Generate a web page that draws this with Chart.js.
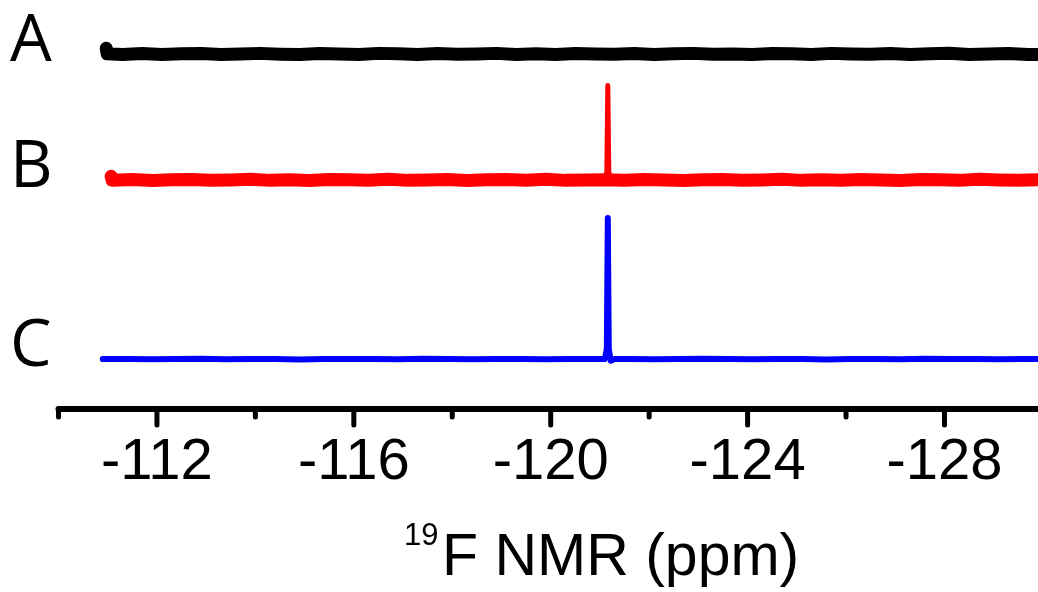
<!DOCTYPE html>
<html>
<head>
<meta charset="utf-8">
<script src="https://cdn.jsdelivr.net/npm/chart.js@4/dist/chart.umd.min.js"></script>
<style>
  html, body { margin: 0; padding: 0; background: #fff; overflow: hidden; }
  #wrap { width: 1038px; height: 592px; position: relative; }
</style>
</head>
<body>
<div id="wrap"><canvas id="c" width="1038" height="592"></canvas></div>
<script>
// ---- data (ppm positions and intensities) ----
const seriesLabels = ['A', 'B', 'C'];
const seriesColors = ['#000000', '#ff0000', '#0000ff'];
const seriesOffsets = [86.8, 56.0, 12.2];   // vertical stacking offset of each trace

const tickValues = [-112, -116, -120, -124, -128];
const minorTickValues = [-110, -114, -118, -122, -126, -130];

const ppmA = [-110.97, -110.99, -111.3, -111.7, -112.1, -112.5, -112.9, -113.3, -113.7, -114.1,
  -114.5, -114.9, -115.3, -115.7, -116.1, -116.5, -116.9, -117.3, -117.7, -118.1,
  -118.5, -118.9, -119.3, -119.7, -120.1, -120.5, -120.9, -121.3, -121.7, -122.1,
  -122.5, -122.9, -123.3, -123.7, -124.1, -124.5, -124.9, -125.3, -125.7, -126.1,
  -126.5, -126.9, -127.3, -127.7, -128.1, -128.5, -128.9, -129.3, -129.7, -129.9];
const intA = [1.4, 0.05, -0.1, 0.1, -0.15, 0.05, 0.1, -0.1, 0.0, 0.15,
  -0.05, -0.15, 0.1, 0.0, -0.1, 0.15, 0.05, -0.1, 0.1, -0.05,
  0.0, 0.15, -0.1, 0.05, -0.15, 0.1, 0.0, -0.05, 0.1, -0.1,
  0.05, 0.15, -0.05, 0.0, -0.15, 0.1, 0.05, -0.1, 0.15, 0.0,
  -0.05, 0.1, -0.15, 0.05, 0.2, -0.1, 0.0, 0.1, -0.15, -0.1];

const ppmB = [-111.07, -111.09, -111.5, -111.9, -112.3, -112.7, -113.1, -113.5, -113.9, -114.3,
  -114.7, -115.1, -115.5, -115.9, -116.3, -116.7, -117.1, -117.5, -117.9, -118.3,
  -118.7, -119.1, -119.5, -119.9, -120.3, -120.7, -121.1, -121.5, -121.9, -122.3,
  -122.7, -123.1, -123.5, -123.9, -124.3, -124.7, -125.1, -125.5, -125.9, -126.3,
  -126.7, -127.1, -127.5, -127.9, -128.3, -128.7, -129.1, -129.5, -129.9];
const intB = [0.9, -0.05, 0.1, -0.15, 0.05, 0.1, -0.1, 0.0, 0.15, -0.1,
  0.05, -0.15, 0.1, 0.05, -0.05, 0.15, -0.1, 0.0, 0.1, -0.15,
  0.05, 0.1, -0.05, 0.15, -0.1, 0.0, 0.05, -0.1, 0.1, 0.0,
  -0.15, 0.05, 0.1, -0.05, 0.0, 0.15, -0.1, 0.05, -0.05, 0.1,
  0.0, -0.15, 0.1, 0.05, -0.1, 0.15, 0.0, -0.05, 0.05];
const ppmBPeak = [-121.10, -121.14, -121.16, -121.18, -121.22];
const intBPeak = [0, 2.0, 23.1, 2.0, 0];

const ppmC = [-110.90, -111.4, -111.9, -112.4, -112.9, -113.4, -113.9, -114.4, -114.9, -115.4,
  -115.9, -116.4, -116.9, -117.4, -117.9, -118.4, -118.9, -119.4, -119.9, -120.4,
  -120.9, -121.1, -121.14, -121.16, -121.18, -121.22, -121.3, -121.6, -122.1, -122.6,
  -123.1, -123.6, -124.1, -124.6, -125.1, -125.6, -126.1, -126.6, -127.1, -127.6,
  -128.1, -128.6, -129.1, -129.6, -129.9];
const intC = [0.0, 0.05, -0.05, 0.0, 0.08, -0.05, 0.0, 0.05, -0.08, 0.0,
  0.05, 0.0, -0.05, 0.08, 0.0, -0.05, 0.05, 0.0, -0.05, 0.05,
  0.0, 0.0, 2.5, 34.5, 2.5, -0.4, 0.0, 0.05, -0.05, 0.0,
  0.08, 0.0, -0.05, 0.05, 0.0, -0.08, 0.05, 0.0, -0.05, 0.08,
  0.0, 0.05, -0.05, 0.0, 0.05];

const xTitleSup = '19';
const xTitleMain = 'F NMR (ppm)';

// ---- build datasets from arrays ----
function pts(xs, ys, off) { return xs.map((x, i) => ({ x: x, y: off + ys[i] })); }

const datasets = [
  { label: seriesLabels[0], data: pts(ppmA, intA, seriesOffsets[0]), borderColor: seriesColors[0], borderWidth: 13, traceLabel: true },
  { label: seriesLabels[1], data: pts(ppmB, intB, seriesOffsets[1]), borderColor: seriesColors[1], borderWidth: 13, traceLabel: true },
  { label: seriesLabels[1] + ' peak', data: pts(ppmBPeak, intBPeak, seriesOffsets[1]), borderColor: seriesColors[1], borderWidth: 5 },
  { label: seriesLabels[2], data: pts(ppmC, intC, seriesOffsets[2]), borderColor: seriesColors[2], borderWidth: 6, traceLabel: true }
].map(d => Object.assign({ pointRadius: 0, pointHoverRadius: 0, tension: 0, fill: false,
  borderCapStyle: 'round', borderJoinStyle: 'round' }, d));

const AXIS_Y = 409;

const decor = {
  id: 'decor',
  afterDraw(chart) {
    const ctx = chart.ctx;
    const xs = chart.scales.x, ys = chart.scales.y;
    ctx.save();
    // axis line
    ctx.strokeStyle = '#000';
    ctx.lineCap = 'round';
    ctx.lineWidth = 6;
    const xl = xs.getPixelForValue(-110);
    ctx.beginPath();
    ctx.moveTo(xl, AXIS_Y);
    ctx.lineTo(chart.width + 10, AXIS_Y);
    ctx.stroke();
    // major and minor ticks
    ctx.lineWidth = 5;
    tickValues.forEach(v => {
      const p = xs.getPixelForValue(v);
      ctx.beginPath(); ctx.moveTo(p, AXIS_Y); ctx.lineTo(p, AXIS_Y + 16); ctx.stroke();
    });
    minorTickValues.forEach(v => {
      const p = xs.getPixelForValue(v);
      ctx.beginPath(); ctx.moveTo(p, AXIS_Y); ctx.lineTo(p, AXIS_Y + 8); ctx.stroke();
    });
    // trace letters
    ctx.fillStyle = '#000';
    ctx.font = '66px "Open Sans", "DejaVu Sans", sans-serif';
    ctx.textAlign = 'left';
    ctx.textBaseline = 'alphabetic';
    chart.data.datasets.forEach(d => {
      if (!d.traceLabel) return;
      const k = seriesLabels.indexOf(d.label);
      const y = ys.getPixelForValue(seriesOffsets[k]);
      ctx.fillText(d.label, 10, y + 7);
    });
    // axis title with superscript
    ctx.font = '31px "Liberation Sans", Arial, sans-serif';
    ctx.fillText(xTitleSup, 404, 545);
    ctx.font = '59px "Liberation Sans", Arial, sans-serif';
    ctx.fillText(xTitleMain, 442, 575);
    ctx.restore();
  }
};

new Chart(document.getElementById('c'), {
  type: 'line',
  data: { datasets: datasets },
  options: {
    responsive: false,
    animation: false,
    events: [],
    layout: { padding: { left: 58.5, right: 0, top: 0, bottom: 0 } },
    plugins: { legend: { display: false }, tooltip: { enabled: false }, title: { display: false } },
    scales: {
      x: {
        type: 'linear',
        reverse: true,
        min: -129.9,
        max: -110,
        grid: { display: false, drawTicks: false },
        border: { display: false },
        afterFit: s => { s.height = 592 - AXIS_Y; },
        afterBuildTicks: s => { s.ticks = tickValues.map(v => ({ value: v })); },
        ticks: {
          autoSkip: false, maxRotation: 0, padding: 19, color: '#000',
          font: { family: '"Liberation Sans", Arial, sans-serif', size: 58 },
          callback: v => String(v)
        }
      },
      y: { type: 'linear', display: false, min: 0, max: 100 }
    }
  },
  plugins: [decor]
});
</script>
</body>
</html>
